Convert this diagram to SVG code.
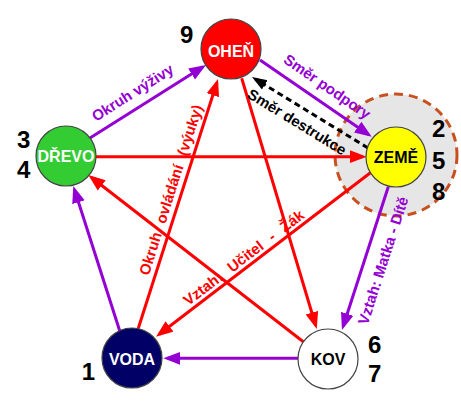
<svg xmlns="http://www.w3.org/2000/svg" width="461" height="408" viewBox="0 0 461 408">
<style>
text{font-family:"Liberation Sans",Arial,sans-serif;font-weight:bold}
.node circle{stroke:#444;stroke-width:1.2}
.nt{font-size:16px;text-anchor:middle}
.num{font-size:24px;fill:#000}
.lbl{font-size:15px;text-anchor:middle}
.p{stroke:#9400d3;stroke-width:3;fill:none;marker-end:url(#ap)}
.r{stroke:#ff0000;stroke-width:3;fill:none;marker-end:url(#ar)}
.k{stroke:#000;stroke-width:3;fill:none;stroke-dasharray:6 4;marker-end:url(#ak)}
</style>
<defs>
<marker id="ap" markerUnits="userSpaceOnUse" markerWidth="18" markerHeight="14" refX="13" refY="7" orient="auto" viewBox="0 0 18 14"><path d="M0,0.5 L17,7 L0,13.5 z" fill="#9400d3"/></marker>
<marker id="ar" markerUnits="userSpaceOnUse" markerWidth="18" markerHeight="14" refX="13" refY="7" orient="auto" viewBox="0 0 18 14"><path d="M0,0.5 L17,7 L0,13.5 z" fill="#ff0000"/></marker>
<marker id="ak" markerUnits="userSpaceOnUse" markerWidth="16" markerHeight="12" refX="11" refY="6" orient="auto" viewBox="0 0 16 12"><path d="M0,0.5 L15,6 L0,11.5 z" fill="#000"/></marker>
</defs>
<rect width="461" height="408" fill="#fff"/>
<circle id="zone" cx="396" cy="155" r="61" fill="#e6e6e6" stroke="#c8501e" stroke-width="3" stroke-dasharray="9 6"/>
<g id="connectors">
<line class="p" x1="90" y1="138" x2="202.6" y2="67.1"/>
<line class="p" x1="260" y1="60" x2="368.4" y2="134.4"/>
<line class="p" x1="388.3" y1="186.7" x2="343.2" y2="326.2"/>
<line class="p" x1="298" y1="358.3" x2="167.3" y2="358.3"/>
<line class="p" x1="120" y1="331.7" x2="74.5" y2="189.8"/>
<line class="r" x1="96" y1="156.7" x2="362.7" y2="156.7"/>
<line class="r" x1="241.7" y1="78.3" x2="315.6" y2="325.2"/>
<line class="r" x1="303.3" y1="341.7" x2="91.5" y2="177.5"/>
<line class="r" x1="138.3" y1="328.3" x2="216.8" y2="82.8"/>
<line class="r" x1="371.7" y1="171.7" x2="159.2" y2="334.3"/>
<line class="k" x1="368" y1="148" x2="255.4" y2="79.1"/>
<text class="lbl" fill="#9400d3" transform="translate(141,105.9) rotate(-32.2)" y="-10.5">Okruh výživy</text>
<text class="lbl" fill="#9400d3" transform="translate(318.1,99.9) rotate(34.5)" y="-11">Směr podpory</text>
<text class="lbl" fill="#000" transform="translate(304.8,109.3) rotate(31.5)" y="20">Směr destrukce</text>
<text class="lbl" fill="#ff0000" transform="translate(181.4,193.3) rotate(-72.3)" y="-6" word-spacing="6">Okruh ovládání (výuky)</text>
<text class="lbl" fill="#ff0000" transform="translate(249.3,264.9) rotate(-37.3)" y="-4" word-spacing="6">Vztah: Učitel - Žák</text>
<text class="lbl" fill="#9400d3" transform="translate(366.2,255.2) rotate(-72.1)" y="23">Vztah: Matka - Dítě</text>
</g>
<g id="ohen" class="node"><circle cx="231" cy="49" r="30" fill="#ff0000"/><text class="nt" x="231" y="56.5" fill="#fff">OHEŇ</text><text class="num" x="180" y="43.3">9</text></g>
<g id="zeme" class="node"><circle cx="396" cy="157" r="30" fill="#ffff00"/><text class="nt" x="396" y="162.7" fill="#000">ZEMĚ</text><text class="num" x="432" y="137">2</text><text class="num" x="432" y="169">5</text><text class="num" x="432" y="199.5">8</text></g>
<g id="drevo" class="node"><circle cx="66" cy="156" r="30" fill="#33cc33"/><text class="nt" x="66" y="161.7" fill="#fff">DŘEVO</text><text class="num" x="17" y="148">3</text><text class="num" x="17" y="178">4</text></g>
<g id="voda" class="node"><circle cx="132" cy="358" r="30" fill="#000066"/><text class="nt" x="132" y="365" fill="#fff">VODA</text><text class="num" x="81.7" y="380">1</text></g>
<g id="kov" class="node"><circle cx="328" cy="359" r="30" fill="#fff"/><text class="nt" x="328" y="365" fill="#000">KOV</text><text class="num" x="368" y="353">6</text><text class="num" x="368" y="382">7</text></g>
</svg>
